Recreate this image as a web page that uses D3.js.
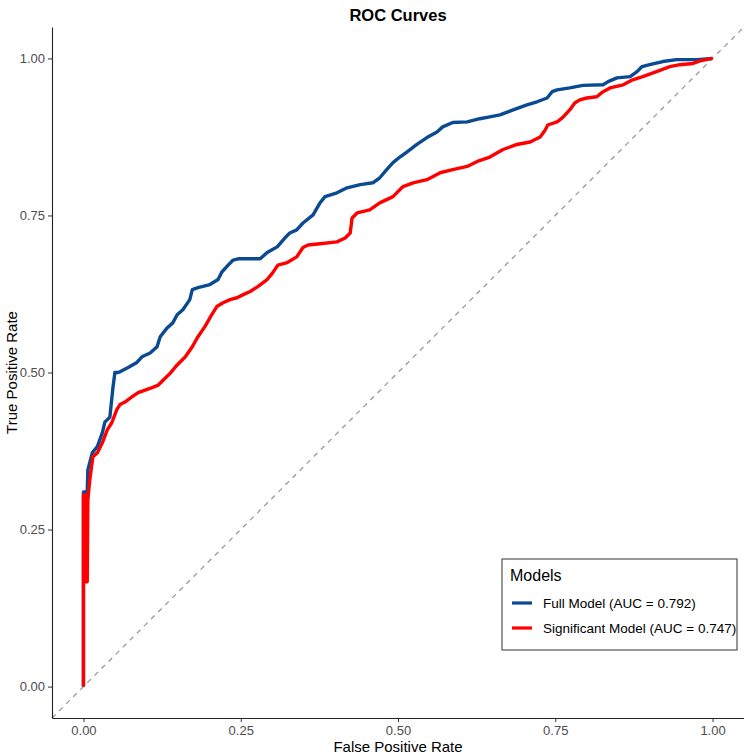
<!DOCTYPE html>
<html>
<head>
<meta charset="utf-8">
<script src="https://cdn.jsdelivr.net/npm/d3@7"></script>
<style>
  body { margin: 0; background: #fff; }
  text { font-family: "Liberation Sans", Arial, sans-serif; }
</style>
</head>
<body>
<div id="chart"></div>
<script>
// roc points (false positive rate / true positive rate)
var full_fpr = [0, 0, 0.003, 0.004, 0.007, 0.014, 0.022, 0.030, 0.034, 0.042, 0.047, 0.050, 0.055, 0.058, 0.071, 0.085, 0.093, 0.106, 0.117, 0.122, 0.133, 0.142, 0.149, 0.158, 0.169, 0.173, 0.182, 0.201, 0.214, 0.220, 0.230, 0.238, 0.246, 0.281, 0.292, 0.308, 0.320, 0.328, 0.339, 0.349, 0.365, 0.376, 0.384, 0.403, 0.419, 0.440, 0.460, 0.471, 0.482, 0.492, 0.503, 0.514, 0.530, 0.546, 0.562, 0.571, 0.587, 0.610, 0.630, 0.646, 0.662, 0.683, 0.705, 0.721, 0.737, 0.745, 0.753, 0.773, 0.794, 0.826, 0.834, 0.848, 0.869, 0.880, 0.888, 0.900, 0.921, 0.943, 0.975, 1];
var full_tpr = [0, 0.310, 0.310, 0.238, 0.345, 0.372, 0.382, 0.404, 0.421, 0.429, 0.477, 0.500, 0.500, 0.501, 0.508, 0.516, 0.525, 0.531, 0.541, 0.557, 0.571, 0.579, 0.592, 0.600, 0.616, 0.632, 0.635, 0.640, 0.648, 0.660, 0.671, 0.679, 0.681, 0.681, 0.691, 0.700, 0.714, 0.722, 0.727, 0.738, 0.751, 0.770, 0.780, 0.786, 0.794, 0.799, 0.802, 0.810, 0.823, 0.834, 0.843, 0.851, 0.863, 0.874, 0.883, 0.891, 0.898, 0.899, 0.904, 0.907, 0.910, 0.918, 0.926, 0.931, 0.937, 0.947, 0.950, 0.953, 0.957, 0.958, 0.963, 0.969, 0.971, 0.979, 0.987, 0.990, 0.995, 0.998, 0.998, 1];

var sig_fpr = [0, 0, 0.003, 0.003, 0.006, 0.007, 0.010, 0.015, 0.022, 0.030, 0.038, 0.045, 0.053, 0.058, 0.066, 0.077, 0.087, 0.098, 0.109, 0.119, 0.127, 0.138, 0.149, 0.162, 0.173, 0.182, 0.193, 0.204, 0.212, 0.222, 0.233, 0.244, 0.254, 0.265, 0.276, 0.292, 0.301, 0.309, 0.324, 0.339, 0.349, 0.357, 0.376, 0.403, 0.416, 0.424, 0.427, 0.435, 0.455, 0.471, 0.492, 0.508, 0.524, 0.546, 0.567, 0.587, 0.610, 0.626, 0.646, 0.667, 0.689, 0.710, 0.726, 0.734, 0.738, 0.753, 0.762, 0.773, 0.781, 0.789, 0.800, 0.816, 0.826, 0.837, 0.858, 0.873, 0.889, 0.911, 0.932, 0.948, 0.969, 0.980, 1];
var sig_tpr = [0, 0.305, 0.305, 0.167, 0.167, 0.297, 0.329, 0.366, 0.372, 0.388, 0.409, 0.420, 0.441, 0.449, 0.453, 0.461, 0.468, 0.472, 0.476, 0.480, 0.488, 0.499, 0.512, 0.525, 0.541, 0.557, 0.573, 0.592, 0.605, 0.611, 0.616, 0.619, 0.624, 0.629, 0.636, 0.648, 0.659, 0.671, 0.675, 0.684, 0.699, 0.703, 0.705, 0.708, 0.714, 0.722, 0.746, 0.754, 0.759, 0.770, 0.780, 0.796, 0.802, 0.807, 0.818, 0.823, 0.828, 0.836, 0.843, 0.855, 0.863, 0.867, 0.875, 0.886, 0.894, 0.899, 0.906, 0.918, 0.929, 0.934, 0.937, 0.939, 0.947, 0.953, 0.958, 0.966, 0.971, 0.979, 0.987, 0.990, 0.992, 0.996, 1];

var model_names = ["Full Model (AUC = 0.792)", "Significant Model (AUC = 0.747)"];
var model_colors = ["#0a4a92", "#ff0000"];
var tick_values = [0, 0.25, 0.5, 0.75, 1];

var W = 744, H = 756;
var svg = d3.select("#chart").append("svg")
            .attr("width", W)
            .attr("height", H);

var panel = {left: 52, right: 744, top: 27, bottom: 718};

var x = d3.scaleLinear().domain([-0.05, 1.05]).range([panel.left, panel.right]);
var y = d3.scaleLinear().domain([-0.05, 1.05]).range([panel.bottom, panel.top]);

function zip(a, b) { return a.map(function(v, i) { return [v, b[i]]; }); }
var series = [zip(full_fpr, full_tpr), zip(sig_fpr, sig_tpr)];

// diagonal reference
svg.append("line")
   .attr("x1", x(-0.05)).attr("y1", y(-0.05))
   .attr("x2", x(1.05)).attr("y2", y(1.05))
   .attr("stroke", "#9a9a9a")
   .attr("stroke-width", 1.3)
   .attr("stroke-dasharray", "5,5");

var line = d3.line().x(function(d) { return x(d[0]); }).y(function(d) { return y(d[1]); });

svg.append("g").selectAll("path")
   .data(series)
   .enter()
   .append("path")
   .attr("d", line)
   .attr("fill", "none")
   .attr("stroke", function(d, i) { return model_colors[i]; })
   .attr("stroke-width", 3.4)
   .attr("stroke-linejoin", "round");

// axes
var fmt = d3.format(".2f");
var axis_x = svg.append("g")
   .attr("transform", "translate(0," + panel.bottom + ")")
   .call(d3.axisBottom(x).tickValues(tick_values).tickFormat(fmt).tickSize(4).tickSizeOuter(0).tickPadding(4));
var axis_y = svg.append("g")
   .attr("transform", "translate(" + panel.left + ",0)")
   .call(d3.axisLeft(y).tickValues(tick_values).tickFormat(fmt).tickSize(4).tickSizeOuter(0).tickPadding(3));

[axis_x, axis_y].forEach(function(a) {
  a.select(".domain").attr("stroke", "#222").attr("stroke-width", 1.1);
  a.selectAll(".tick line").attr("stroke", "#333");
  a.selectAll(".tick text")
   .attr("fill", "#4d4d4d")
   .style("font-size", "13px")
   .style("font-family", "'Liberation Sans', Arial, sans-serif");
});

// titles
svg.append("text")
   .attr("x", (panel.left + panel.right) / 2).attr("y", 21)
   .attr("text-anchor", "middle")
   .style("font-size", "16.5px").style("font-weight", "bold")
   .text("ROC Curves");

svg.append("text")
   .attr("x", (panel.left + panel.right) / 2).attr("y", 752)
   .attr("text-anchor", "middle")
   .style("font-size", "15px")
   .text("False Positive Rate");

svg.append("text")
   .attr("transform", "translate(17," + ((panel.top + panel.bottom) / 2) + ") rotate(-90)")
   .attr("text-anchor", "middle")
   .style("font-size", "15px")
   .text("True Positive Rate");

// legend
var legend = svg.append("g").attr("transform", "translate(502,559)");
legend.append("rect")
      .attr("width", 235).attr("height", 91)
      .attr("fill", "#fff")
      .attr("stroke", "#333")
      .attr("stroke-width", 1);
legend.append("text")
      .attr("x", 8).attr("y", 22)
      .style("font-size", "16px")
      .text("Models");
var items = legend.selectAll(".item")
      .data(model_names)
      .enter()
      .append("g")
      .attr("class", "item")
      .attr("transform", function(d, i) { return "translate(0," + (44 + i * 25) + ")"; });
items.append("line")
     .attr("x1", 10).attr("x2", 30)
     .attr("stroke", function(d, i) { return model_colors[i]; })
     .attr("stroke-width", 3.2);
items.append("text")
     .attr("x", 41).attr("y", 4.5)
     .style("font-size", "13.5px")
     .text(function(d) { return d; });
</script>
</body>
</html>
